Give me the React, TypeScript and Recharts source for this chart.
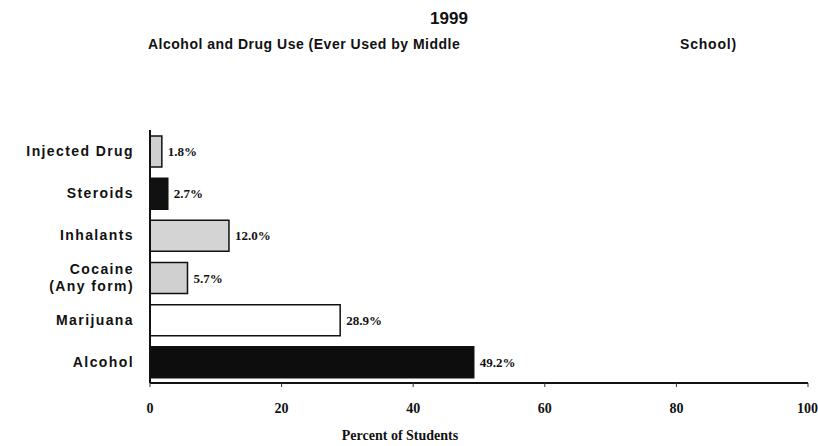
import { Bar, BarChart, Cell, LabelList, XAxis, YAxis } from 'recharts';

const substances = ['Injected Drug', 'Steroids', 'Inhalants', 'Cocaine\n(Any form)', 'Marijuana', 'Alcohol'];
const percentUsed = [1.8, 2.7, 12.0, 5.7, 28.9, 49.2];
const barFills = ['#cfcfcf', '#111111', '#d4d4d4', '#d0d0d0', '#ffffff', '#0d0d0d'];
const percentTicks = [0, 20, 40, 60, 80, 100];

const rows = substances.map((name, i) => ({ name, value: percentUsed[i] }));

const sans = '"Liberation Sans", Arial, sans-serif';
const serif = '"Liberation Serif", "Times New Roman", serif';

function SubstanceTick({ x, y, payload }: any) {
  const lines = String(payload.value).split('\n');
  const top = y - ((lines.length - 1) * 17) / 2;
  return (
    <text x={x - 8} y={top} textAnchor="end" dominantBaseline="central" fontFamily={sans} fontWeight={700} fontSize={14} letterSpacing={1.4} fill="#111">
      {lines.map((line, i) => (
        <tspan key={i} x={x - 8} dy={i === 0 ? 0 : 17}>
          {line}
        </tspan>
      ))}
    </text>
  );
}

export default function App() {
  return (
    <div style={{ position: 'absolute', left: 0, top: 0, width: 818, height: 446, background: '#fff' }}>
      <div style={{ position: 'absolute', left: 0, width: 898, top: 9, textAlign: 'center', font: `700 17px ${sans}`, color: '#111' }}>
        1999
      </div>
      <div style={{ position: 'absolute', left: 148, top: 36, font: `700 14px ${sans}`, letterSpacing: 0.5, color: '#111' }}>
        Alcohol and Drug Use (Ever Used by Middle
      </div>
      <div style={{ position: 'absolute', left: 680, top: 36, font: `700 14px ${sans}`, letterSpacing: 0.8, color: '#111' }}>School)</div>
      <BarChart width={818} height={446} data={rows} layout="vertical" margin={{ top: 130, right: 10, bottom: 33, left: 0 }}>
        <XAxis
          type="number"
          domain={[0, 100]}
          ticks={percentTicks}
          axisLine={{ stroke: '#111', strokeWidth: 2 }}
          tickLine={{ stroke: '#333' }}
          tickSize={4}
          height={30}
          tick={{ fontFamily: serif, fontWeight: 700, fontSize: 14, fill: '#111', dy: 14 }}
        />
        <YAxis
          type="category"
          dataKey="name"
          width={150}
          axisLine={{ stroke: '#111', strokeWidth: 2 }}
          tickLine={false}
          tick={<SubstanceTick />}
          interval={0}
        />
        <Bar dataKey="value" barSize={31} stroke="#111" strokeWidth={1.5} isAnimationActive={false}>
          {rows.map((row, i) => (
            <Cell key={row.name} fill={barFills[i]} />
          ))}
          <LabelList
            dataKey="value"
            position="right"
            offset={6}
            formatter={(v: any) => `${Number(v).toFixed(1)}%`}
            style={{ fontFamily: serif, fontWeight: 700, fontSize: 13, fill: '#111' }}
          />
        </Bar>
      </BarChart>
      <div style={{ position: 'absolute', left: 330, width: 140, top: 428, textAlign: 'center', font: `700 14px ${serif}`, color: '#111' }}>
        Percent of Students
      </div>
    </div>
  );
}
